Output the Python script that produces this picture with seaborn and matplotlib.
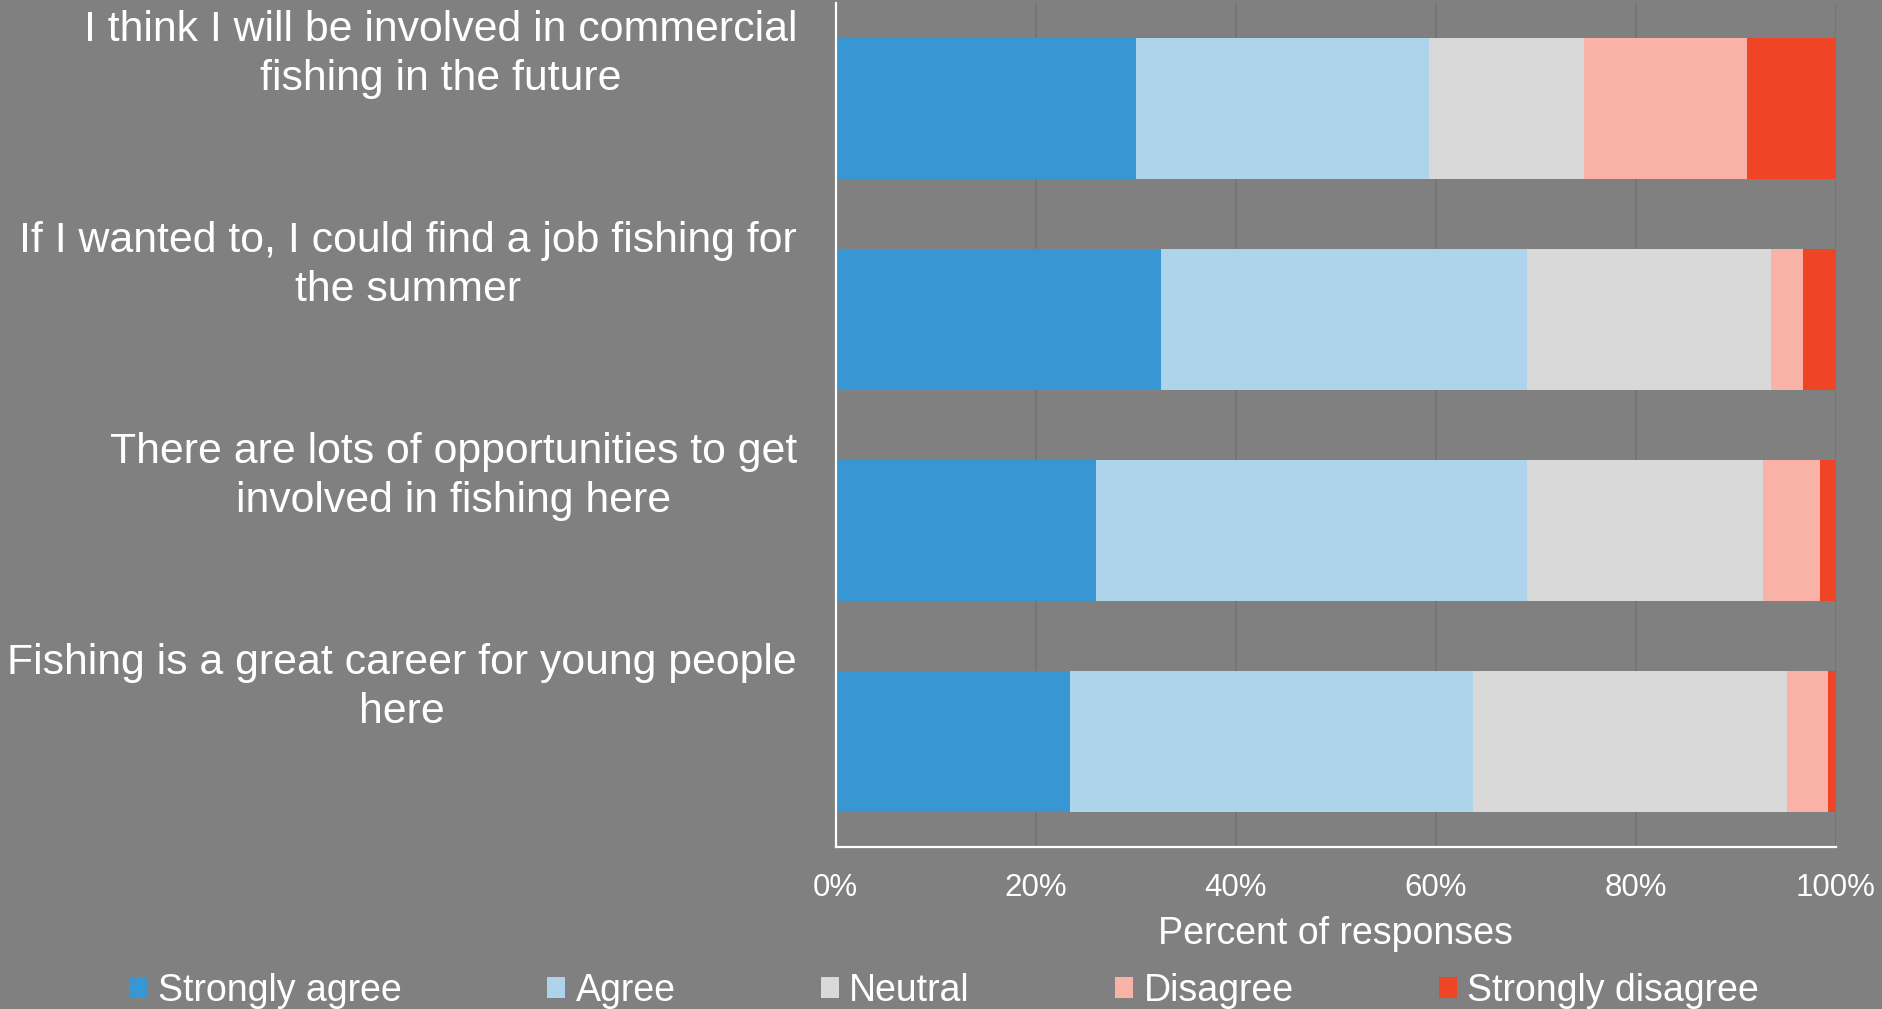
import matplotlib
matplotlib.use("Agg")
import matplotlib.pyplot as plt
import matplotlib.transforms as mtrans
from matplotlib.patches import Patch
from matplotlib.ticker import PercentFormatter
import seaborn as sns
import pandas as pd
import numpy as np

questions = [
    "I think I will be involved in commercial\nfishing in the future",
    "If I wanted to, I could find a job fishing for\nthe summer",
    "There are lots of opportunities to get\ninvolved in fishing here",
    "Fishing is a great career for young people\nhere",
]
series_names = ["Strongly agree", "Agree", "Neutral", "Disagree", "Strongly disagree"]
strongly_agree = [30.0, 32.5, 26.0, 23.4]
agree = [29.3, 36.6, 43.1, 40.3]
neutral = [15.5, 24.4, 23.6, 31.4]
disagree = [16.3, 3.2, 5.7, 4.1]
strongly_disagree = [8.9, 3.3, 1.6, 0.8]
colors = ["#3896D2", "#AED4EB", "#D9D9D9", "#F8B3A6", "#EF4426"]
x_ticks = [0, 20, 40, 60, 80, 100]
x_label = "Percent of responses"

sns.set_style("white")
plt.rcParams["font.family"] = ["Liberation Sans", "DejaVu Sans"]

BG = "#808080"
fig = plt.figure(figsize=(18.83, 10.09), dpi=100, facecolor=BG)
ax = fig.add_axes([0.4438, 0.1606, 0.5311, 0.8365], facecolor=BG)

series = [strongly_agree, agree, neutral, disagree, strongly_disagree]
cum = np.cumsum(np.array(series), axis=0)
df = pd.DataFrame({"question": questions})
# draw cumulative bars from the largest to the smallest so the segments stack
for k in range(len(series) - 1, -1, -1):
    df["value"] = cum[k]
    sns.barplot(data=df, x="value", y="question", orient="h", color=colors[k],
                width=0.67, linewidth=0, saturation=1, ax=ax, zorder=3,
                errorbar=None)

ax.set_xlim(0, 100)
ax.set_xticks(x_ticks)
ax.xaxis.set_major_formatter(PercentFormatter(100, decimals=0))
ax.tick_params(axis="x", length=0, pad=19, labelsize=22.5, labelcolor="white")
ax.set_xlabel(x_label, fontsize=27, color="white", labelpad=9)
ax.set_ylabel("")
ax.set_yticks(range(len(questions)))
ax.set_yticklabels([])
ax.tick_params(axis="y", length=0)
ax.grid(axis="x", color="#737373", linewidth=1.2, zorder=0)
ax.set_axisbelow(True)
for s in ["top", "right"]:
    ax.spines[s].set_visible(False)
for s in ["left", "bottom"]:
    ax.spines[s].set_color("white")
    ax.spines[s].set_linewidth(1.6)
    ax.spines[s].set_zorder(5)

trans = mtrans.blended_transform_factory(ax.transAxes, ax.transData)
for i, q in enumerate(questions):
    ax.text(-0.0386, i - 0.255, q, transform=trans, ha="right", va="center",
            multialignment="center", fontsize=30.8, color="white", linespacing=1.3)

handles = [Patch(facecolor=c, edgecolor="none") for c in colors]
fig.legend(handles, series_names, loc="center", bbox_to_anchor=(0.5016, 0.018),
           ncol=5, frameon=False, fontsize=27, handlelength=0.48, handleheight=0.5,
           handletextpad=0.27, columnspacing=3.88, labelcolor="white",
           borderpad=0, borderaxespad=0)

fig.savefig("out.png", dpi=100, facecolor=BG)
